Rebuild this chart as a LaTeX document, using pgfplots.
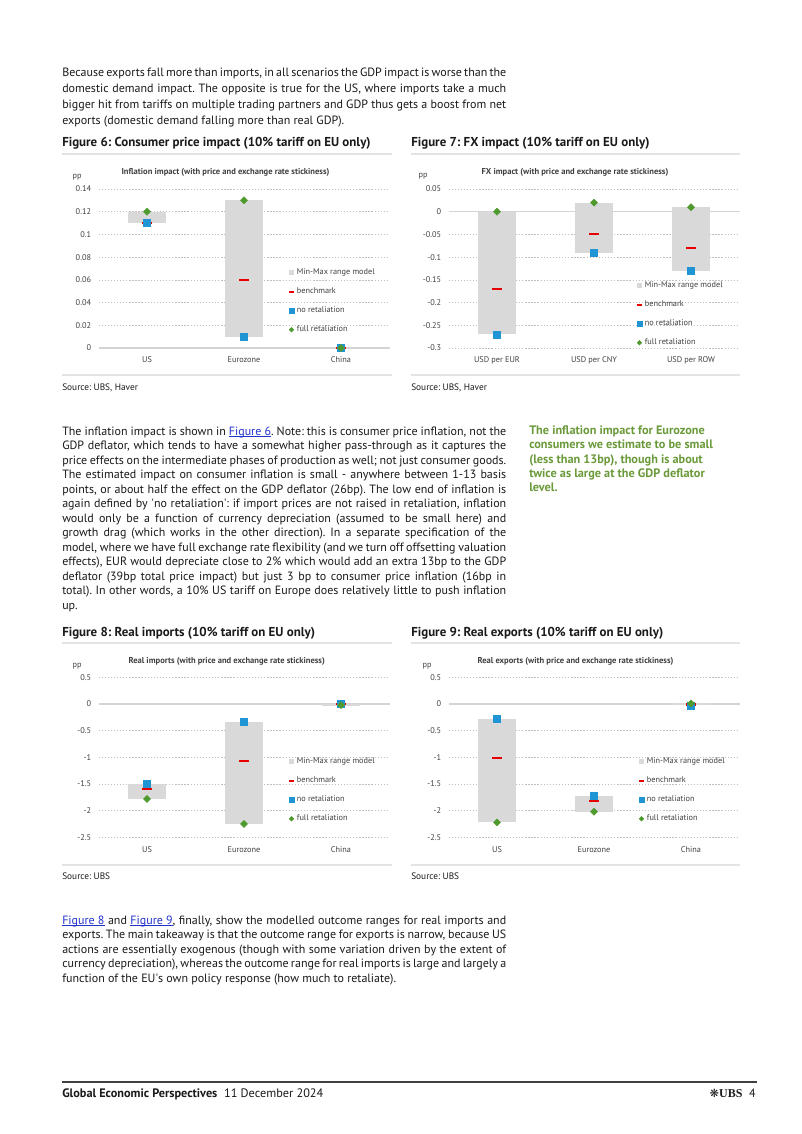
\documentclass[border=0pt]{standalone}
\usepackage{fontspec}
\setmainfont{PT Sans}
\newfontfamily\symfont{DejaVu Sans}
\newfontfamily\serifub{Liberation Serif}
\usepackage{pgfplots}
\usepackage{pgfplotstable}
\pgfplotsset{compat=1.18}
\frenchspacing

\definecolor{barGray}{HTML}{D9D9D9}
\definecolor{gridGray}{HTML}{BFBFBF}
\definecolor{zeroGray}{HTML}{D4D4D4}
\definecolor{sepGray}{HTML}{E3E3E3}
\definecolor{ubsred}{HTML}{E60000}
\definecolor{ubsblue}{HTML}{1F96D3}
\definecolor{ubsgreen}{HTML}{4F9A2E}
\definecolor{noteGreen}{HTML}{6B9A3A}
\definecolor{linkblue}{HTML}{2233CC}
\definecolor{txt}{HTML}{1A1A1A}
\definecolor{lbl}{HTML}{404040}

\newcommand\bodysz{\fontsize{9}{10}\selectfont}
\newcommand\figtitle{\fontsize{9.7}{11}\selectfont\bfseries}
\newcommand\ctitle{\fontsize{6.4}{7}\selectfont\bfseries}
\newcommand\ticksz{\fontsize{6.2}{7}\selectfont}
\newcommand\legsz{\fontsize{6.2}{7}\selectfont}
\newcommand\srcsz{\fontsize{7}{8}\selectfont}
\newsavebox\lnkbox
\newcommand\lnk[1]{{\color{linkblue}\sbox\lnkbox{\color{linkblue}#1}\rlap{\rule[-1.1pt]{\wd\lnkbox}{0.45pt}}\usebox\lnkbox}}
\newcommand\jl[1]{\makebox[333pt][s]{#1}}

\pgfplotstableread{
x low high bench nore full
0 0.11 0.12 0.11 0.11 0.12
1 0.01 0.13 0.06 0.01 0.13
2 0 0 0 0 0
}\tabA
\pgfplotstableread{
x low high bench nore full
0 -0.27 0 -0.17 -0.27 0
1 -0.09 0.02 -0.05 -0.09 0.02
2 -0.13 0.01 -0.08 -0.13 0.01
}\tabB
\pgfplotstableread{
x low high bench nore full
0 -1.78 -1.5 -1.6 -1.5 -1.78
1 -2.25 -0.33 -1.07 -0.33 -2.25
2 -0.03 0 0 0 -0.02
}\tabC
\pgfplotstableread{
x low high bench nore full
0 -2.22 -0.28 -1.02 -0.28 -2.22
1 -2.02 -1.72 -1.82 -1.72 -2.02
2 -0.02 0.02 -0.01 -0.03 0.01
}\tabD

\pgfplotsset{
  mychart/.style={
    scale only axis, width=218.25pt,
    xmin=-0.5, xmax=2.5, xtick={0,1,2},
    axis line style={draw=none}, tick style={draw=none},
    ymajorgrids,
    major grid style={draw=gridGray, dash pattern=on 1pt off 1.3pt, line width=0.5pt},
    yticklabel style={font=\ticksz, text=lbl, inner sep=0pt, xshift=-5.4pt},
    xticklabel style={font=\ticksz, text=lbl, inner sep=0pt, yshift=-6.5pt},
    clip=false,
    extra y ticks={0}, extra y tick labels={},
    extra y tick style={major grid style={solid, draw=zeroGray, line width=0.9pt}},
    legend style={draw=none, fill=none, inner sep=0pt, font=\legsz, text=lbl,
      anchor=north west, row sep=0pt,
      nodes={minimum height=14.25pt, inner ysep=0pt, inner xsep=1.2pt}},
    legend cell align=left,
  },
  rangebar/.style={mark=none, draw=none,
    error bars/y dir=plus, error bars/y explicit, error bars/error mark=none,
    error bars/error bar style={draw=barGray, line width=28.5pt, line cap=butt}},
}

\newcommand\drawseries[1]{%
  \addplot[rangebar, legend image code/.code={\fill[barGray] (0pt,-1.8pt) rectangle (3.6pt,1.8pt);}]
    table[x=x, y=low, y error plus expr=\thisrow{high}-\thisrow{low}] {#1};
  \addlegendentry{Min-Max range model}
  \addplot[only marks, mark=-, mark size=3.6pt, mark options={draw=ubsred, line width=1.6pt},
    legend image code/.code={\draw[ubsred, line width=1.3pt] (0pt,0pt) -- (4pt,0pt);}]
    table[x=x, y=bench] {#1};
  \addlegendentry{benchmark}
  \addplot[only marks, mark=square*, mark size=2.6pt, mark options={draw=ubsblue, fill=ubsblue},
    legend image code/.code={\fill[ubsblue] (0pt,-1.8pt) rectangle (3.6pt,1.8pt);}]
    table[x=x, y=nore] {#1};
  \addlegendentry{no retaliation}
  \addplot[only marks, mark=square*, mark size=1.85pt, mark options={draw=ubsgreen, fill=ubsgreen, rotate=45},
    legend image code/.code={\fill[ubsgreen] (1.8pt,-1.7pt) -- (3.5pt,0pt) -- (1.8pt,1.7pt) -- (0.1pt,0pt) -- cycle;}]
    table[x=x, y=full] {#1};
  \addlegendentry{full retaliation}
}

\begin{document}
\begin{tikzpicture}[x=0.75pt, y=-0.75pt]
\useasboundingbox[fill=white] (0,0) rectangle (802,1134);
\coordinate (A6) at (98.5,348);
\coordinate (A7) at (448.5,348);
\coordinate (A8) at (98.5,837.3);
\coordinate (A9) at (448.5,837.3);

% ---------- paragraph 1
\begin{scope}[every node/.style={anchor=base west, inner sep=0pt, text=txt, font=\bodysz}]
\node at (62,77) {\jl{Because exports fall more than imports, in all scenarios the GDP impact is worse than the}};
\node at (62,92.8) {\jl{domestic demand impact. The opposite is true for the US, where imports take a much}};
\node at (62,108.5) {\jl{bigger hit from tariffs on multiple trading partners and GDP thus gets a boost from net}};
\node at (62,124.3) {exports (domestic demand falling more than real GDP).};

% ---------- paragraph 2
\node at (62,435) {\jl{The inflation impact is shown in \lnk{Figure 6}. Note: this is consumer price inflation, not the}};
\node at (62,449.5) {\jl{GDP deflator, which tends to have a somewhat higher pass-through as it captures the}};
\node at (62,464) {\jl{price effects on the intermediate phases of production as well; not just consumer goods.}};
\node at (62,478.5) {\jl{The estimated impact on consumer inflation is small - anywhere between 1-13 basis}};
\node at (62,493) {\jl{points, or about half the effect on the GDP deflator (26bp). The low end of inflation is}};
\node at (62,507.5) {\jl{again defined by \textquotesingle no retaliation\textquotesingle: if import prices are not raised in retaliation, inflation}};
\node at (62,522) {\jl{would only be a function of currency depreciation (assumed to be small here) and}};
\node at (62,536.5) {\jl{growth drag (which works in the other direction). In a separate specification of the}};
\node at (62,551) {\jl{model, where we have full exchange rate flexibility (and we turn off offsetting valuation}};
\node at (62,565.5) {\jl{effects), EUR would depreciate close to 2\% which would add an extra 13bp to the GDP}};
\node at (62,580) {\jl{deflator (39bp total price impact) but just 3 bp to consumer price inflation (16bp in}};
\node at (62,594.5) {\jl{total). In other words, a 10\% US tariff on Europe does relatively little to push inflation}};
\node at (62,609) {up.};

% ---------- paragraph 3
\node at (62,924) {\jl{\lnk{Figure 8} and \lnk{Figure 9}, finally, show the modelled outcome ranges for real imports and}};
\node at (62,938.5) {\jl{exports. The main takeaway is that the outcome range for exports is narrow, because US}};
\node at (62,953) {\jl{actions are essentially exogenous (though with some variation driven by the extent of}};
\node at (62,967.5) {\jl{currency depreciation), whereas the outcome range for real imports is large and largely a}};
\node at (62,982) {function of the EU\textquotesingle s own policy response (how much to retaliate).};
\end{scope}

% ---------- side note
\begin{scope}[every node/.style={anchor=base west, inner sep=0pt, text=noteGreen, font=\fontsize{9.2}{10}\selectfont\bfseries}]
\node at (529,434.5) {The inflation impact for Eurozone};
\node at (529,448.8) {consumers we estimate to be small};
\node at (529,463.1) {(less than 13bp), though is about};
\node at (529,477.4) {twice as large at the GDP deflator};
\node at (529,491.7) {level.};
\end{scope}

% ---------- figure titles, separators, sources
\begin{scope}[every node/.style={anchor=base west, inner sep=0pt, text=txt}]
\node[font=\figtitle] at (62,147) {Figure 6: Consumer price impact (10\% tariff on EU only)};
\node[font=\figtitle] at (411,147) {Figure 7: FX impact (10\% tariff on EU only)};
\node[font=\figtitle] at (62,636.5) {Figure 8: Real imports (10\% tariff on EU only)};
\node[font=\figtitle] at (411,636.5) {Figure 9: Real exports (10\% tariff on EU only)};
\node[font=\srcsz] at (62,390) {Source: UBS, Haver};
\node[font=\srcsz] at (411,390) {Source: UBS, Haver};
\node[font=\srcsz] at (62,879) {Source: UBS};
\node[font=\srcsz] at (411,879) {Source: UBS};
\end{scope}
\draw[sepGray, line width=0.8pt] (62,154) -- (392,154) (411,154) -- (740,154)
  (62,375) -- (392,375) (411,375) -- (740,375)
  (62,643) -- (392,643) (411,643) -- (740,643)
  (62,865) -- (392,865) (411,865) -- (740,865);

% ---------- chart titles and units
\begin{scope}[every node/.style={inner sep=0pt, text=lbl}]
\node[font=\ctitle] at (225.5,172.7) {Inflation impact (with price and exchange rate stickiness)};
\node[font=\ctitle] at (575,172.7) {FX impact (with price and exchange rate stickiness)};
\node[font=\ctitle] at (226.7,661.7) {Real imports (with price and exchange rate stickiness)};
\node[font=\ctitle] at (575.5,661.7) {Real exports (with price and exchange rate stickiness)};
\node[font=\ticksz] at (77,177.3) {pp};
\node[font=\ticksz] at (423,176.7) {pp};
\node[font=\ticksz] at (77,666) {pp};
\node[font=\ticksz] at (427,666) {pp};
\end{scope}

% ---------- Figure 6
\begin{axis}[mychart, at={(A6)}, anchor=south west, height=119.25pt,
  ymin=0, ymax=0.14,
  ytick={0,0.02,0.04,0.06,0.08,0.1,0.12,0.14},
  yticklabels={0,0.02,0.04,0.06,0.08,0.1,0.12,0.14},
  xticklabels={US,Eurozone,China},
  legend style={at={(0.651,0.535)}}]
\drawseries{\tabA}
\end{axis}

% ---------- Figure 7
\begin{axis}[mychart, at={(A7)}, anchor=south west, height=119.25pt,
  ymin=-0.3, ymax=0.05,
  ytick={-0.3,-0.25,-0.2,-0.15,-0.1,-0.05,0,0.05},
  yticklabels={-0.3,-0.25,-0.2,-0.15,-0.1,-0.05,0,0.05},
  xticklabels={USD per EUR,USD per CNY,USD per ROW},
  legend style={at={(0.644,0.453)}}]
\drawseries{\tabB}
\end{axis}

% ---------- Figure 8
\begin{axis}[mychart, at={(A8)}, anchor=south west, height=120pt,
  ymin=-2.5, ymax=0.5,
  ytick={-2.5,-2,-1.5,-1,-0.5,0,0.5},
  yticklabels={-2.5,-2,-1.5,-1,-0.5,0,0.5},
  xticklabels={US,Eurozone,China},
  legend style={at={(0.651,0.533)}}]
\drawseries{\tabC}
\end{axis}

% ---------- Figure 9
\begin{axis}[mychart, at={(A9)}, anchor=south west, height=120pt,
  ymin=-2.5, ymax=0.5,
  ytick={-2.5,-2,-1.5,-1,-0.5,0,0.5},
  yticklabels={-2.5,-2,-1.5,-1,-0.5,0,0.5},
  xticklabels={US,Eurozone,China},
  legend style={at={(0.651,0.533)}}]
\drawseries{\tabD}
\end{axis}

% ---------- footer
\draw[black!75, line width=0.8pt] (62,1082) -- (757,1082);
\node[anchor=base west, inner sep=0pt, text=txt, font=\fontsize{9.2}{10}\selectfont] at (62,1097)
  {\textbf{Global Economic Perspectives}\hspace{5pt}11 December 2024};
\node[anchor=base east, inner sep=0pt, text=txt, font=\fontsize{9}{10}\selectfont] at (756,1097)
  {{\symfont\fontsize{8.5}{9}\selectfont ❋}{\serifub\bfseries UBS}\hspace{5pt}4};
\end{tikzpicture}
\end{document}
